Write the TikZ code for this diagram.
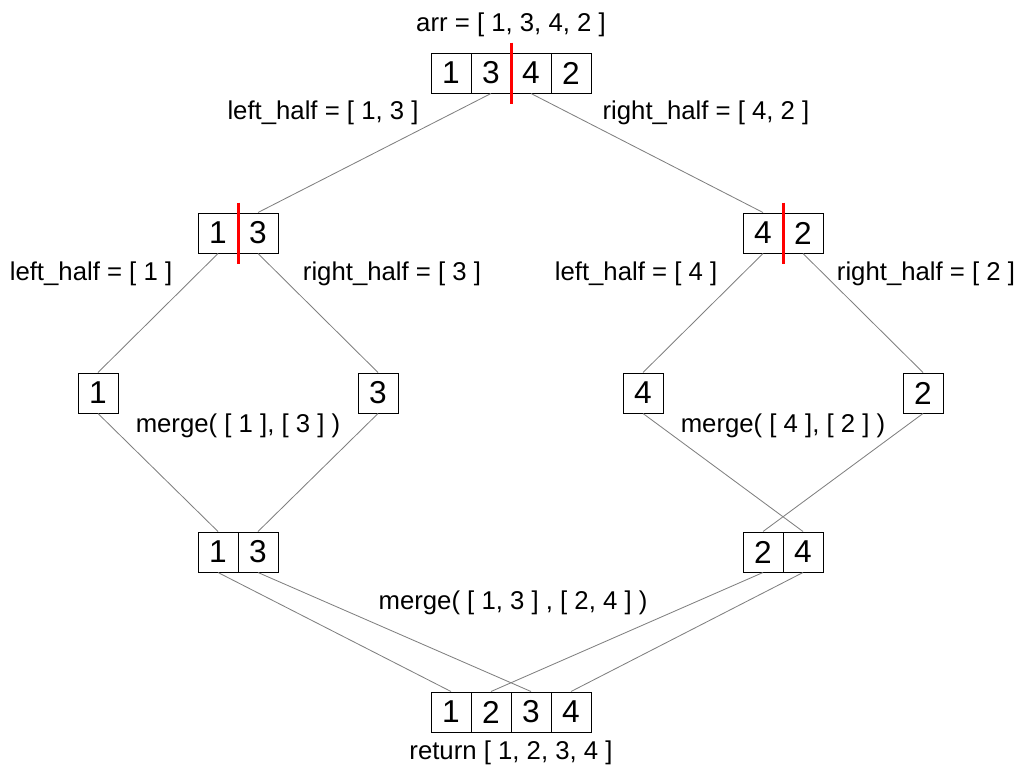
\documentclass[tikz,border=0pt]{standalone}
\usepackage{fontspec}
\setmainfont{Liberation Sans}

\begin{document}
\begin{tikzpicture}[x=0.025cm,y=-0.025cm,
  cell/.style={draw,line width=0.7pt,minimum size=1cm,inner sep=0pt,font=\fontsize{22.5}{22.5}\selectfont},
  lbl/.style={font=\fontsize{18.3}{18}\selectfont},
  link/.style={draw=gray,line width=0.6pt},
  cut/.style={draw=red,line width=2pt}]

\useasboundingbox (0,0) rectangle (1030,769);

% arr
\node[lbl] (arrlbl) at (511,25) {arr = [ 1, 3, 4, 2 ]};
\node[cell] (a1) at (451,73) {1};
\node[cell] (a2) at (491,73) {3};
\node[cell] (a3) at (531,73) {4};
\node[cell] (a4) at (571,73) {2};
\node[lbl] (lh0) at (323,113) {left\_half = [ 1, 3 ]};
\node[lbl] (rh0) at (706,113) {right\_half = [ 4, 2 ]};

% halves
\node[cell] (l1) at (218,233) {1};
\node[cell] (l2) at (258,233) {3};
\node[cell] (r1) at (763,233) {4};
\node[cell] (r2) at (803,233) {2};
\node[lbl] (lh1) at (91,274) {left\_half = [ 1 ]};
\node[lbl] (rh1) at (392,274) {right\_half = [ 3 ]};
\node[lbl] (lh2) at (636,274) {left\_half = [ 4 ]};
\node[lbl] (rh2) at (926,274) {right\_half = [ 2 ]};

% single elements
\node[cell] (s1) at (98,393) {1};
\node[cell] (s2) at (378,393) {3};
\node[cell] (s3) at (643,393) {4};
\node[cell] (s4) at (923,393) {2};
\node[lbl] (mg1) at (238,426) {merge( [ 1 ], [ 3 ] )};
\node[lbl] (mg2) at (783,426) {merge( [ 4 ], [ 2 ] )};

% merged halves
\node[cell] (m1) at (218,552) {1};
\node[cell] (m2) at (258,552) {3};
\node[cell] (n1) at (763,552) {2};
\node[cell] (n2) at (803,552) {4};
\node[lbl] (mg3) at (513,603) {merge( [ 1, 3 ] , [ 2, 4 ] )};

% result
\node[cell] (f1) at (451,712) {1};
\node[cell] (f2) at (491,712) {2};
\node[cell] (f3) at (531,712) {3};
\node[cell] (f4) at (571,712) {4};
\node[lbl] (ret) at (511,753) {return [ 1, 2, 3, 4 ]};

\draw[link] (a2.south) -- (l2.north);
\draw[link] (a3.south) -- (r1.north);

\draw[link] (l1.south) -- (s1.north);
\draw[link] (l2.south) -- (s2.north);
\draw[link] (r1.south) -- (s3.north);
\draw[link] (r2.south) -- (s4.north);

\draw[link] (s1.south) -- (m1.north);
\draw[link] (s2.south) -- (m2.north);
\draw[link] (s3.south) -- (n2.north);
\draw[link] (s4.south) -- (n1.north);

\draw[link] (m1.south) -- (f1.north);
\draw[link] (m2.south) -- (f3.north);
\draw[link] (n1.south) -- (f2.north);
\draw[link] (n2.south) -- (f4.north);

\draw[cut] ([yshift=0.25cm]a2.north east) -- ([yshift=-0.25cm]a2.south east);
\draw[cut] ([yshift=0.25cm]l1.north east) -- ([yshift=-0.25cm]l1.south east);
\draw[cut] ([yshift=0.25cm]r1.north east) -- ([yshift=-0.25cm]r1.south east);

\end{tikzpicture}
\end{document}
